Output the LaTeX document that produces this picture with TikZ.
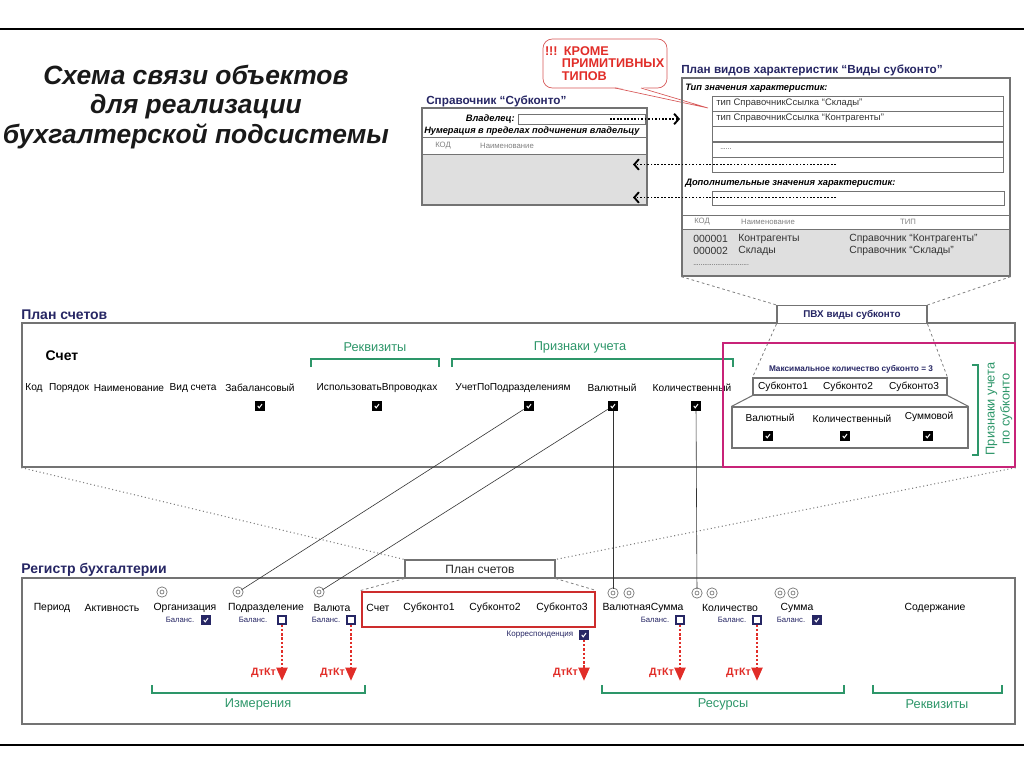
\documentclass[tikz,border=0pt]{standalone}
\usepackage{fontspec}
\setmainfont{Liberation Sans}
\usetikzlibrary{arrows.meta,calc,positioning}
\definecolor{hdnavy}{RGB}{38,38,100}
\definecolor{grn}{RGB}{45,150,105}
\definecolor{mag}{RGB}{200,35,120}
\definecolor{boxred}{RGB}{205,45,45}
\definecolor{arrred}{RGB}{225,45,40}
\definecolor{frame}{RGB}{115,115,115}
\definecolor{cellgray}{RGB}{223,223,223}
\newcommand{\fsz}[1]{\fontsize{#1}{#1}\selectfont}

\begin{document}
\begin{tikzpicture}[x=0.75pt, y=-0.75pt,
    hdr/.style={anchor=west, inner sep=0, text=hdnavy, font=\bfseries\fsz{10.5}},
    lbl/.style={inner sep=0, font=\fsz{7.6}},
    bal/.style={inner sep=0, text=hdnavy, font=\fsz{5.8}},
    hint/.style={inner sep=0, text=gray, font=\fsz{5.8}},
    cell/.style={anchor=west, inner sep=0, text=black!80, font=\fsz{7.1}},
    grnlbl/.style={inner sep=0, text=grn, font=\fsz{9.6}},
    brk/.style={grn, line width=0.8pt},
    panel/.style={draw=frame, line width=1pt, inner sep=0},
    wire/.style={black!80, line width=0.45pt},
    zoomline/.style={gray, line width=0.6pt, dash pattern=on 2pt off 2pt},
    dotline/.style={gray, line width=0.8pt, dash pattern=on 0.8pt off 2pt},
    dotarr/.style={line width=1.3pt, dash pattern=on 1.3pt off 1.3pt, -{Straight Barb[length=3.5pt, width=8pt, line width=1.4pt]}},
    dtkt/.style={arrred, line width=2.2pt, dash pattern=on 1.8pt off 1.4pt, -{Triangle[length=10pt, width=8pt]}},
    dtlbl/.style={anchor=east, inner sep=0, text=arrred, font=\bfseries\fsz{8}},
    chk/.style={fill=black, minimum width=7.6pt, minimum height=6.8pt, inner sep=0,
        path picture={
            \draw[white, line width=0.75pt] ([shift={(2.1pt,3.5pt)}]path picture bounding box.south west) -- ++(1.1pt,-1.5pt) -- ++(2.1pt,2.8pt);}},
    navychk/.style={chk, fill=hdnavy},
    openbox/.style={draw=hdnavy, line width=1.4pt, fill=white, minimum width=6.6pt, minimum height=5.6pt, inner sep=0},
    ring/.style={circle, draw=gray!90!black, line width=0.6pt, double=white, double distance=1.5pt, minimum size=5.4pt, inner sep=0}]

    % Page rules
    \useasboundingbox (0,0) rectangle (1024,767);
    \draw[line width=1.6pt] (0,29) -- (1024,29);
    \draw[line width=1.6pt] (0,745) -- (1024,745);

    % Title
    \node[align=center, inner sep=0, text=black!90, font=\bfseries\itshape\fontsize{19.8}{22}\selectfont] (title) at (196,107) {Схема связи объектов\\для реализации\\бухгалтерской подсистемы};

    % Callout (drawn first, the table frame lies over its tail)
    \node[draw=boxred!80, line width=0.5pt, rounded corners=7pt, fill=white, minimum width=93pt, minimum height=36.75pt, text width=90pt, align=left, inner sep=0, text=arrred, font=\bfseries\fontsize{9.5}{9.6}\selectfont] (callout) at (605,63.5) {!!! КРОМЕ\\\hspace*{12.7pt}ПРИМИТИВНЫХ\\\hspace*{12.7pt}ТИПОВ};
    \coordinate (tailA) at (615,88);
    \coordinate (tailB) at (641,88);
    \coordinate (tailTip) at (708,108);
    \fill[white] ([yshift=0.8pt]tailA) -- (tailTip) -- ([yshift=0.8pt]tailB) -- cycle;
    \draw[boxred!80, line width=0.5pt] (tailA) -- (tailTip) -- (tailB);

    % Catalog "Subkonto"
    \node[hdr, font=\bfseries\fsz{8.8}] (sprT) at (426,101) {Справочник “Субконто”};
    \fill[cellgray] (422,154) rectangle (647,205);
    \draw[frame, line width=0.6pt] (422,137) -- (647,137) (422,154) -- (647,154);
    \node[panel, minimum width=168.75pt, minimum height=72.75pt] (spr) at (534.5,156.5) {};
    \node[anchor=east, inner sep=0, font=\bfseries\itshape\fsz{7}] (owner) at (515,119) {Владелец:};
    \draw[frame, line width=0.6pt] (518,114) rectangle (645,124);
    \node[anchor=west, inner sep=0, font=\bfseries\itshape\fsz{6.9}] (numer) at (424,131) {Нумерация в пределах подчинения владельцу};
    \node[hint] (sprKod) at (443,146) {КОД};
    \node[hint] (sprNaim) at (507,146) {Наименование};

    % Chart of characteristic types
    \node[hdr, font=\bfseries\fsz{8.8}] (pvhT) at (681,70) {План видов характеристик “Виды субконто”};
    \fill[cellgray] (682,229) rectangle (1010,276);
    \node[panel, minimum width=246pt, minimum height=148.5pt] (pvh) at (846,177) {};
    \node[anchor=west, inner sep=0, font=\bfseries\itshape\fsz{7}] (typT) at (685,88) {Тип значения характеристик:};
    \foreach \y in {96,111,126,142,157}
        \draw[frame, line width=0.6pt] (712,\y) rectangle (1003,\y+15);
    \node[cell] (typ1) at (716,103.5) {тип СправочникСсылка “Склады”};
    \node[cell] (typ2) at (716,118.5) {тип СправочникСсылка “Контрагенты”};
    \node[cell, font=\fsz{5}] (typ4) at (720,149) {......};
    \node[anchor=west, inner sep=0, font=\bfseries\itshape\fsz{7}] (addT) at (685,183) {Дополнительные значения характеристик:};
    \draw[frame, line width=0.6pt] (712,191) rectangle (1004,205);
    \draw[frame, line width=0.6pt] (682,215) -- (1010,215) (682,229) -- (1010,229);
    \node[hint] (pvKod) at (702,222) {КОД};
    \node[hint] (pvNaim) at (768,222) {Наименование};
    \node[hint] (pvTip) at (908,222) {ТИП};
    \node[cell, font=\fsz{7.8}] (k1) at (693,239) {000001};
    \node[cell, font=\fsz{7.8}] (n1) at (738,239) {Контрагенты};
    \node[cell, font=\fsz{7.8}] (t1) at (849,239) {Справочник “Контрагенты”};
    \node[cell, font=\fsz{7.8}] (k2) at (693,251) {000002};
    \node[cell, font=\fsz{7.8}] (n2) at (738,251) {Склады};
    \node[cell, font=\fsz{7.8}] (t2) at (849,251) {Справочник “Склады”};
    \node[cell, font=\fsz{5}] (k3) at (693,265) {..............................};

    % Dotted links between catalog and chart
    \coordinate (ownerEnd) at (610,119);
    \coordinate (pvIn) at (680,119);
    \coordinate (row5) at (836,164.5);
    \coordinate (addIn) at (836,197.5);
    \coordinate (sprA) at (633,164.5);
    \coordinate (sprB) at (633,197.5);
    \draw[dotarr] (ownerEnd) -- (pvIn);
    \draw[dotarr] (row5) -- (sprA);
    \draw[dotarr] (addIn) -- (sprB);

    % Chart of accounts
    \node[hdr] (planT) at (21,315) {План счетов};
    \node[panel, minimum width=744.75pt, minimum height=108pt] (plan) at (518.5,395) {};
    \node[panel, line width=0.8pt, fill=white, minimum width=112.5pt, minimum height=13.5pt, text=hdnavy, font=\bfseries\fsz{7.4}] (pvx) at (852,314.5) {ПВХ виды субконто};
    \draw[zoomline] (pvh.south west) -- (pvx.north west);
    \draw[zoomline] (pvh.south east) -- (pvx.north east);

    \node[inner sep=0, font=\bfseries\fsz{10.5}] (schet) at (62,356) {Счет};
    \node[lbl] (aKod) at (34,388) {Код};
    \node[lbl] (aPor) at (69,388) {Порядок};
    \node[lbl] (aNaim) at (129,388) {Наименование};
    \node[lbl] (aVid) at (193,388) {Вид счета};
    \node[lbl] (aZab) at (260,388) {Забалансовый};
    \node[lbl] (aIsp) at (377,388) {ИспользоватьВпроводках};
    \node[lbl] (aUch) at (513,388) {УчетПоПодразделениям};
    \node[lbl] (aVal) at (612,388) {Валютный};
    \node[lbl] (aKol) at (692,388) {Количественный};
    \node[chk] (cZab) at (260,406) {};
    \node[chk] (cIsp) at (377,406) {};
    \node[chk] (cUch) at (529,406) {};
    \node[chk] (cVal) at (613,406) {};
    \node[chk] (cKol) at (696,406) {};

    \draw[brk] (311,367) -- (311,359) -- (439,359) -- (439,367);
    \node[grnlbl] (gRekv) at (375,347) {Реквизиты};
    \draw[brk] (452,367) -- (452,359) -- (733,359) -- (733,367);
    \node[grnlbl] (gPriz) at (580,347) {Признаки учета};

    % Subkonto features
    \node[draw=mag, line width=2.2pt, minimum width=219pt, minimum height=93pt, inner sep=0] (magbox) at (869,405) {};
    \node[inner sep=0, text=hdnavy, font=\bfseries\fsz{6.2}] (maxT) at (851,369) {Максимальное количество субконто = 3};
    \node[panel, line width=0.8pt, minimum width=145.5pt, minimum height=12.75pt] (sbk) at (850,386.5) {};
    \node[lbl] (s1) at (783,387) {Субконто1};
    \node[lbl] (s2) at (848,387) {Субконто2};
    \node[lbl] (s3) at (914,387) {Субконто3};
    \node[panel, line width=0.8pt, minimum width=177pt, minimum height=30.75pt] (lbx) at (850,427.5) {};
    \draw[frame, line width=0.8pt] (sbk.south west) -- (lbx.north west) (sbk.south east) -- (lbx.north east);
    \draw[zoomline] (pvx.south west) -- (sbk.north west);
    \draw[zoomline] (pvx.south east) -- (sbk.north east);
    \node[lbl] (fVal) at (770,418) {Валютный};
    \node[lbl] (fKol) at (852,419) {Количественный};
    \node[lbl] (fSum) at (929,417) {Суммовой};
    \node[chk] (cfVal) at (768,436) {};
    \node[chk] (cfKol) at (845,436) {};
    \node[chk] (cfSum) at (928,436) {};
    \draw[brk] (972,365) -- (978,365) -- (978,455) -- (972,455);
    \node[grnlbl, rotate=90, align=center, font=\fontsize{9.6}{11.2}\selectfont] (gSub) at (999,409) {Признаки учета\\по субконто};

    % Accounting register
    \node[hdr] (regT) at (21,570) {Регистр бухгалтерии};
    \node[panel, minimum width=744.75pt, minimum height=109.5pt] (reg) at (518.5,651) {};
    \node[panel, line width=0.8pt, fill=white, minimum width=112.5pt, minimum height=13.5pt, text=black!85, font=\fsz{9}] (ps) at (480,569) {План счетов};
    \draw[dotline] (plan.south west) -- (ps.north west);
    \draw[dotline] (plan.south east) -- (ps.north east);
    \node[draw=boxred, line width=2.2pt, minimum width=174.75pt, minimum height=26.25pt, inner sep=0] (sch) at (478.5,609.5) {};
    \draw[zoomline] (ps.south west) -- (sch.north west);
    \draw[zoomline] (ps.south east) -- (sch.north east);

    \node[lbl, font=\fsz{7.8}] (rPer) at (52,608) {Период};
    \node[lbl, font=\fsz{7.8}] (rAkt) at (112,608) {Активность};
    \node[lbl, font=\fsz{7.8}] (rOrgL) at (185,608) {Организация};
    \node[lbl, font=\fsz{7.8}] (rPodL) at (266,608) {Подразделение};
    \node[lbl, font=\fsz{7.8}] (rValL) at (332,608) {Валюта};
    \node[lbl, font=\fsz{7.8}] (rSch) at (378,608) {Счет};
    \node[lbl, font=\fsz{7.8}] (rS1) at (429,608) {Субконто1};
    \node[lbl, font=\fsz{7.8}] (rS2) at (495,608) {Субконто2};
    \node[lbl, font=\fsz{7.8}] (rS3) at (562,608) {Субконто3};
    \node[lbl, font=\fsz{7.8}] (rVSL) at (643,608) {ВалютнаяСумма};
    \node[lbl, font=\fsz{7.8}] (rKolL) at (730,608) {Количество};
    \node[lbl, font=\fsz{7.8}] (rSumL) at (797,608) {Сумма};
    \node[lbl, font=\fsz{7.8}] (rSod) at (935,608) {Содержание};

    \node[ring] (rOrg) at (162,592) {};
    \node[ring] (rPod) at (238,592) {};
    \node[ring] (rVal) at (319,592) {};
    \node[ring] (rVS1) at (613,593) {};
    \node[ring] (rVS2) at (629,593) {};
    \node[ring] (rKol1) at (697,593) {};
    \node[ring] (rKol2) at (712,593) {};
    \node[ring] (rSum1) at (780,593) {};
    \node[ring] (rSum2) at (793,593) {};

    \node[bal] (balOrg) at (180,620) {Баланс.};
    \node[navychk] (bOrg) at (206,620) {};
    \node[bal] (balPod) at (253,620) {Баланс.};
    \node[openbox] (bPod) at (282,620) {};
    \node[bal] (balVal) at (326,620) {Баланс.};
    \node[openbox] (bVal) at (351,620) {};
    \node[bal] (balVS) at (655,620) {Баланс.};
    \node[openbox] (bVS) at (680,620) {};
    \node[bal] (balKol) at (732,620) {Баланс.};
    \node[openbox] (bKol) at (757,620) {};
    \node[bal] (balSum) at (791,620) {Баланс.};
    \node[navychk] (bSum) at (817,620) {};
    \node[bal, font=\fsz{6}] (korL) at (540,635) {Корреспонденция};
    \node[navychk] (bKor) at (584,635) {};

    % Links from account features to register fields
    \draw[wire] (cUch) -- (rPod);
    \draw[wire] (cVal) -- (rVal);
    \draw[wire] (cVal) -- (rVS1);
    \draw[wire] (cKol) -- (rKol1);

    % Debit/credit arrows
    \coordinate (tPod) at (282,681);
    \coordinate (tVal) at (351,681);
    \coordinate (tKor) at (584,681);
    \coordinate (tVS) at (680,681);
    \coordinate (tKol) at (757,681);
    \draw[dtkt] (bPod.south) -- (tPod);
    \draw[dtkt] (bVal.south) -- (tVal);
    \draw[dtkt] (bKor.south) -- (tKor);
    \draw[dtkt] (bVS.south) -- (tVS);
    \draw[dtkt] (bKol.south) -- (tKol);
    \node[dtlbl] (dPod) at (276,673) {ДтКт};
    \node[dtlbl] (dVal) at (345,673) {ДтКт};
    \node[dtlbl] (dKor) at (578,673) {ДтКт};
    \node[dtlbl] (dVS) at (674,673) {ДтКт};
    \node[dtlbl] (dKol) at (751,673) {ДтКт};

    % Field groups
    \draw[brk] (152,685) -- (152,693) -- (365,693) -- (365,685);
    \node[grnlbl] (gIzm) at (258,704) {Измерения};
    \draw[brk] (602,685) -- (602,693) -- (844,693) -- (844,685);
    \node[grnlbl] (gRes) at (723,704) {Ресурсы};
    \draw[brk] (873,685) -- (873,693) -- (1002,693) -- (1002,685);
    \node[grnlbl] (gRekv2) at (937,704) {Реквизиты};
\end{tikzpicture}
\end{document}
